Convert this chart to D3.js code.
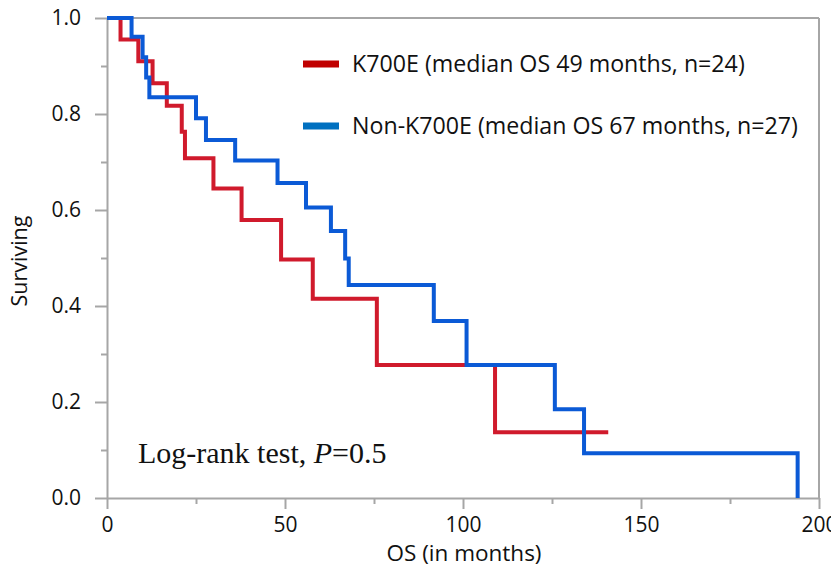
<!DOCTYPE html>
<html><head><meta charset="utf-8">
<script src="https://cdn.jsdelivr.net/npm/d3@7"></script>
<style>body{margin:0;background:#fff}svg{display:block}</style>
</head><body>
<svg id="c" width="831" height="571"></svg>
<script>
// ---- data ----
const redTimes = [0, 3.8, 8.8, 12.8, 16.8, 21.0, 21.9, 29.9, 37.8, 48.9, 57.8, 75.8, 109.0, 140.8];
const redSurv  = [1.0, 0.955, 0.91, 0.864, 0.817, 0.763, 0.708, 0.645, 0.579, 0.497, 0.415, 0.277, 0.137, 0.137];
const blueTimes = [0, 6.9, 10.0, 11.0, 11.9, 25.0, 27.8, 36.0, 47.9, 55.9, 62.9, 66.9, 67.9, 91.8, 101.0, 125.8, 134.0, 194.0];
const blueSurv  = [1.0, 0.961, 0.918, 0.876, 0.835, 0.791, 0.746, 0.703, 0.656, 0.605, 0.556, 0.499, 0.444, 0.369, 0.277, 0.185, 0.093, 0.0];
const seriesNames = ["K700E (median OS 49 months, n=24)", "Non-K700E (median OS 67 months, n=27)"];
const xTicks = [0, 50, 100, 150, 200];
const xMinor = [25, 75, 125, 175];
const yTicks = [0, 0.2, 0.4, 0.6, 0.8, 1.0];
const yMinor = [0.1, 0.3, 0.5, 0.7, 0.9];
const xTitle = "OS (in months)";
const yTitle = "Surviving";

// ---- layout ----
const svg = d3.select("#c");
const L = 107, R = 819, T = 18, B = 498;
const x = d3.scaleLinear().domain([0, 200]).range([L, R]);
const y = d3.scaleLinear().domain([0, 1]).range([B, T]);
const axisCol = "#a6a6a6";
const sans = "'Open Sans', 'Noto Sans', sans-serif";

// frame (top and right)
svg.append("line").attr("x1", L).attr("x2", R).attr("y1", T).attr("y2", T).attr("stroke", axisCol).attr("stroke-width", 2);
svg.append("line").attr("x1", R).attr("x2", R).attr("y1", T).attr("y2", B).attr("stroke", axisCol).attr("stroke-width", 2);

// x axis
const gx = svg.append("g").attr("transform", `translate(0,${B})`)
  .call(d3.axisBottom(x).tickValues(xTicks).tickFormat(d3.format("d")).tickSize(11).tickSizeOuter(0).tickPadding(8));
const gxm = svg.append("g").attr("transform", `translate(0,${B})`)
  .call(d3.axisBottom(x).tickValues(xMinor).tickFormat("").tickSize(6).tickSizeOuter(0));
// y axis
const gy = svg.append("g").attr("transform", `translate(${L},0)`)
  .call(d3.axisLeft(y).tickValues(yTicks).tickFormat(d3.format(".1f")).tickSize(12).tickSizeOuter(0).tickPadding(14));
const gym = svg.append("g").attr("transform", `translate(${L},0)`)
  .call(d3.axisLeft(y).tickValues(yMinor).tickFormat("").tickSize(6).tickSizeOuter(0));
[gx, gxm, gy, gym].forEach(g => {
  g.selectAll("path,line").attr("stroke", axisCol).attr("stroke-width", 2);
  g.selectAll("text").attr("fill", "#111").style("font-family", sans).style("font-size", "21px");
});
gxm.select("path").remove(); gym.select("path").remove();
gx.select("path").attr("d", `M${L},0.5H${R + 1}`);
gy.select("path").attr("d", `M0.5,${T}V${B}`);

// axis titles
svg.append("text").attr("x", 464).attr("y", 561).attr("text-anchor", "middle")
  .style("font-family", sans).style("font-size", "22.5px").attr("fill", "#111").text(xTitle);
svg.append("text").attr("transform", `translate(27,${(T + B) / 2 + 3}) rotate(-90)`).attr("text-anchor", "middle")
  .style("font-family", sans).style("font-size", "21.5px").attr("fill", "#111").text(yTitle);

// curves
const line = d3.line().x(d => x(d[0])).y(d => y(d[1])).curve(d3.curveStepAfter);
const series = [
  {name: seriesNames[0], pts: d3.zip(redTimes, redSurv), color: "#d01a2c", sw: "#c00000"},
  {name: seriesNames[1], pts: d3.zip(blueTimes, blueSurv), color: "#0b5ad6", sw: "#0070c0"}
];
series.forEach(s => {
  svg.append("path").attr("d", line(s.pts)).attr("fill", "none").attr("stroke", s.color)
    .attr("stroke-width", 4).attr("stroke-linejoin", "miter").attr("stroke-linecap", "butt");
});

// legend
const legY = [64, 126];
series.forEach((s, i) => {
  svg.append("line").attr("x1", 303).attr("x2", 339).attr("y1", legY[i]).attr("y2", legY[i])
    .attr("stroke", s.sw).attr("stroke-width", 7);
  svg.append("text").attr("x", 352).attr("y", legY[i]).attr("dy", "0.35em")
    .style("font-family", sans).style("font-size", "23.2px").attr("fill", "#111").text(s.name);
});

// annotation
const ann = svg.append("text").attr("x", 138).attr("y", 463)
  .style("font-family", "'Liberation Serif', serif").style("font-size", "30px").attr("fill", "#111");
ann.append("tspan").text("Log-rank test, ");
ann.append("tspan").style("font-style", "italic").text("P");
ann.append("tspan").text("=0.5");
</script>
</body></html>
